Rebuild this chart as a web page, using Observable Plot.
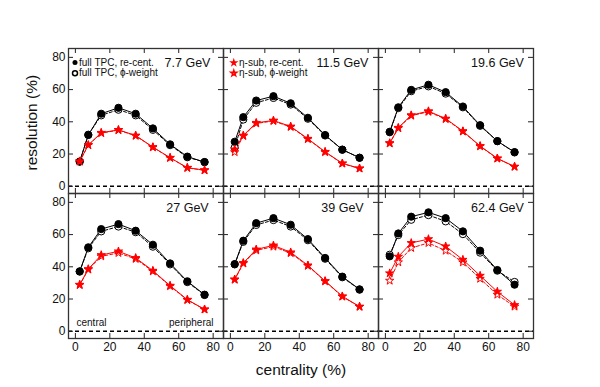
<!DOCTYPE html>
<html><head><meta charset="utf-8">
<script src="https://cdn.jsdelivr.net/npm/d3@7"></script>
<script src="https://cdn.jsdelivr.net/npm/@observablehq/plot@0.6"></script>
<style>body{margin:0;background:#fff} svg{display:block}</style>
</head><body><div id="chart"></div>
<script>
const energies = ["7.7 GeV", "11.5 GeV", "19.6 GeV", "27 GeV", "39 GeV", "62.4 GeV"];
const centrality = [2.5, 7.5, 15, 25, 35, 45, 55, 65, 75];
const xTicks = [0, 20, 40, 60, 80];
const yTicks = [0, 20, 40, 60, 80];

// full TPC, re-centering (filled circles)
const fullRecent = [
  [15.3, 31.8, 45.0, 48.7, 45.0, 35.9, 26.0, 18.4, 15.0],
  [27.6, 42.9, 53.2, 55.9, 51.5, 42.5, 31.8, 22.7, 17.7],
  [33.8, 49.0, 59.8, 63.0, 58.4, 49.5, 37.9, 28.0, 21.2],
  [37.2, 52.1, 63.4, 66.5, 62.4, 53.7, 42.1, 31.0, 22.7],
  [41.7, 56.2, 67.1, 70.2, 66.1, 57.2, 45.5, 33.9, 26.0],
  [46.5, 60.7, 71.1, 73.8, 70.2, 62.0, 50.0, 38.0, 28.9]
];
// full TPC, phi-weight (open circles)
const fullPhiW = [
  [15.3, 32.0, 44.0, 47.5, 44.0, 35.0, 25.5, 18.0, 15.0],
  [24.0, 41.4, 51.8, 54.8, 50.7, 41.9, 31.5, 22.7, 17.7],
  [33.5, 48.5, 59.0, 62.0, 57.5, 49.0, 37.5, 28.0, 21.0],
  [37.0, 51.5, 62.0, 65.0, 61.5, 52.5, 41.5, 30.5, 22.5],
  [41.5, 55.5, 66.0, 69.0, 65.0, 56.5, 45.0, 33.5, 25.8],
  [47.5, 59.7, 69.2, 72.1, 68.2, 60.3, 48.8, 37.6, 30.6]
];
// eta-sub, re-centering (filled stars)
const etaRecent = [
  [15.5, 25.6, 33.2, 35.0, 31.5, 24.3, 17.7, 11.5, 10.0],
  [22.9, 31.5, 39.4, 40.8, 37.1, 29.5, 21.4, 14.2, 11.1],
  [26.8, 36.3, 44.1, 46.6, 42.0, 34.2, 25.0, 17.3, 12.2],
  [28.9, 38.6, 47.3, 49.6, 45.5, 37.6, 28.3, 19.6, 13.6],
  [32.2, 42.4, 50.8, 53.3, 49.0, 40.9, 31.2, 21.7, 15.3],
  [36.0, 46.3, 54.8, 57.2, 52.7, 44.4, 34.5, 24.6, 16.3]
];
// eta-sub, phi-weight (open stars)
const etaPhiW = [
  [15.3, 25.5, 33.0, 34.8, 31.3, 24.2, 17.6, 11.4, 9.9],
  [21.2, 31.2, 39.0, 40.5, 36.8, 29.3, 21.2, 14.1, 11.0],
  [26.6, 36.0, 43.8, 46.2, 41.7, 34.0, 24.8, 17.2, 12.1],
  [28.7, 38.3, 46.5, 48.6, 44.9, 37.2, 28.0, 19.4, 13.5],
  [32.0, 42.1, 50.2, 52.5, 48.5, 40.6, 31.0, 21.5, 15.2],
  [31.4, 42.8, 51.7, 54.8, 50.0, 42.8, 32.6, 22.7, 15.3]
];

const legendFull = ["full TPC, re-cent.", "full TPC, \u03d5-weight"];
const legendEta = ["\u03b7-sub, re-cent.", "\u03b7-sub, \u03d5-weight"];

const seriesDefs = [
  {key: "fullPhiW", values: fullPhiW, color: "#000", symbol: "circle", open: true, r: 3.6},
  {key: "fullRecent", values: fullRecent, color: "#000", symbol: "circle", open: false, r: 3.6},
  {key: "etaPhiW", values: etaPhiW, color: "#ff0000", symbol: "star", open: true, r: 2.6},
  {key: "etaRecent", values: etaRecent, color: "#ff0000", symbol: "star", open: false, r: 2.6}
];

const rows = [];
energies.forEach((e, i) => {
  const col = i % 3, row = Math.floor(i / 3);
  seriesDefs.forEach(s => {
    s.values[i].forEach((v, j) => rows.push({col, row, series: s.key, centrality: centrality[j], value: v}));
  });
});
const panels = energies.map((e, i) => ({col: i % 3, row: Math.floor(i / 3), label: e}));

const lineMarks = [];
const dotMarks = [];
seriesDefs.forEach(s => {
  const d = rows.filter(r => r.series === s.key);
  lineMarks.push(Plot.line(d, {x: "centrality", y: "value", fx: "col", fy: "row", stroke: s.color,
    strokeWidth: 1, strokeDasharray: s.open ? "3,2" : null}));
});
seriesDefs.forEach(s => {
  const d = rows.filter(r => r.series === s.key);
  dotMarks.push(Plot.dot(d, {x: "centrality", y: "value", fx: "col", fy: "row", symbol: s.symbol, r: s.r,
    fill: s.open ? "white" : s.color, stroke: s.color, strokeWidth: 1}));
});

const p0 = [{col: 0, row: 0}], p1 = [{col: 1, row: 0}], p3 = [{col: 0, row: 1}];
const FF = "'Liberation Sans', Arial, Helvetica, sans-serif";

const chart = Plot.plot({
  width: 600, height: 387,
  marginLeft: 67, marginRight: 67, marginTop: 48, marginBottom: 49,
  style: {fontFamily: FF, fontSize: "12px", background: "white", color: "#111"},
  x: {domain: [-4, 86]},
  y: {domain: [-4.5, 85.5]},
  fx: {domain: [0, 1, 2], padding: 0, axis: null},
  fy: {domain: [0, 1], padding: 0, axis: null},
  marks: [
    Plot.ruleY([0], {stroke: "#000", strokeWidth: 1.5, strokeDasharray: "4,3"}),
    Plot.tickX(xTicks, {x: d => d, insetTop: 140, stroke: "#222", strokeWidth: 1}),
    Plot.tickX(xTicks, {x: d => d, insetBottom: 140, stroke: "#222", strokeWidth: 1}),
    Plot.tickY(yTicks, {y: d => d, insetRight: 150, stroke: "#222", strokeWidth: 1}),
    Plot.tickY(yTicks, {y: d => d, insetLeft: 150, stroke: "#222", strokeWidth: 1}),
    Plot.frame({stroke: "#333", strokeWidth: 1.3}),
    ...lineMarks,
    ...dotMarks,
    Plot.text(panels, {fx: "col", fy: "row", text: "label", frameAnchor: "top-left", textAnchor: "middle",
      lineAnchor: "middle", dx: 119, dy: 14, fontSize: 12.5, fill: "#111"}),
    // legend, panel 1
    Plot.dot(p0, {fx: "col", fy: "row", frameAnchor: "top-left", dx: 6.5, dy: 14, r: 2.5, fill: "#000"}),
    Plot.dot(p0, {fx: "col", fy: "row", frameAnchor: "top-left", dx: 6.5, dy: 24.7, r: 2.5, fill: "white", stroke: "#000"}),
    Plot.text(p0, {fx: "col", fy: "row", text: () => legendFull[0], frameAnchor: "top-left", textAnchor: "start",
      lineAnchor: "middle", dx: 10.5, dy: 14, fontSize: 10, fill: "#111"}),
    Plot.text(p0, {fx: "col", fy: "row", text: () => legendFull[1], frameAnchor: "top-left", textAnchor: "start",
      lineAnchor: "middle", dx: 10.5, dy: 24.7, fontSize: 10, fill: "#111"}),
    // legend, panel 2
    Plot.dot(p1, {fx: "col", fy: "row", frameAnchor: "top-left", dx: 10.3, dy: 14.3, symbol: "star", r: 1.5, fill: "#ff0000", stroke: "#ff0000"}),
    Plot.dot(p1, {fx: "col", fy: "row", frameAnchor: "top-left", dx: 10.3, dy: 24.7, symbol: "star", r: 1.8, fill: "white", stroke: "#ff0000"}),
    Plot.text(p1, {fx: "col", fy: "row", text: () => legendEta[0], frameAnchor: "top-left", textAnchor: "start",
      lineAnchor: "middle", dx: 15.5, dy: 14.3, fontSize: 10, fill: "#111"}),
    Plot.text(p1, {fx: "col", fy: "row", text: () => legendEta[1], frameAnchor: "top-left", textAnchor: "start",
      lineAnchor: "middle", dx: 15.5, dy: 24.7, fontSize: 10, fill: "#111"}),
    // central / peripheral
    Plot.text(p3, {fx: "col", fy: "row", text: () => "central", frameAnchor: "bottom-left", textAnchor: "start",
      lineAnchor: "middle", dx: 8, dy: -16, fontSize: 10, fill: "#111"}),
    Plot.text(p3, {fx: "col", fy: "row", text: () => "peripheral", frameAnchor: "bottom-right", textAnchor: "end",
      lineAnchor: "middle", dx: -10, dy: -16, fontSize: 10, fill: "#111"}),
    Plot.axisX(xTicks, {anchor: "bottom", tickSize: 0, tickPadding: 4, label: null, fontSize: 12}),
    Plot.axisY(yTicks, {anchor: "left", tickSize: 0, tickPadding: 3, label: null, fontSize: 12}),
    Plot.text(["centrality (%)"], {text: d => d, facet: "super", frameAnchor: "bottom", lineAnchor: "middle",
      dy: 32, fontSize: 15.5, fill: "#111"}),
    Plot.text(["resolution (%)"], {text: d => d, facet: "super", frameAnchor: "left", lineAnchor: "middle",
      rotate: -90, dx: -36, dy: -23, fontSize: 15.5, fill: "#111"})
  ]
});
document.getElementById("chart").appendChild(chart);
</script>
</body></html>
